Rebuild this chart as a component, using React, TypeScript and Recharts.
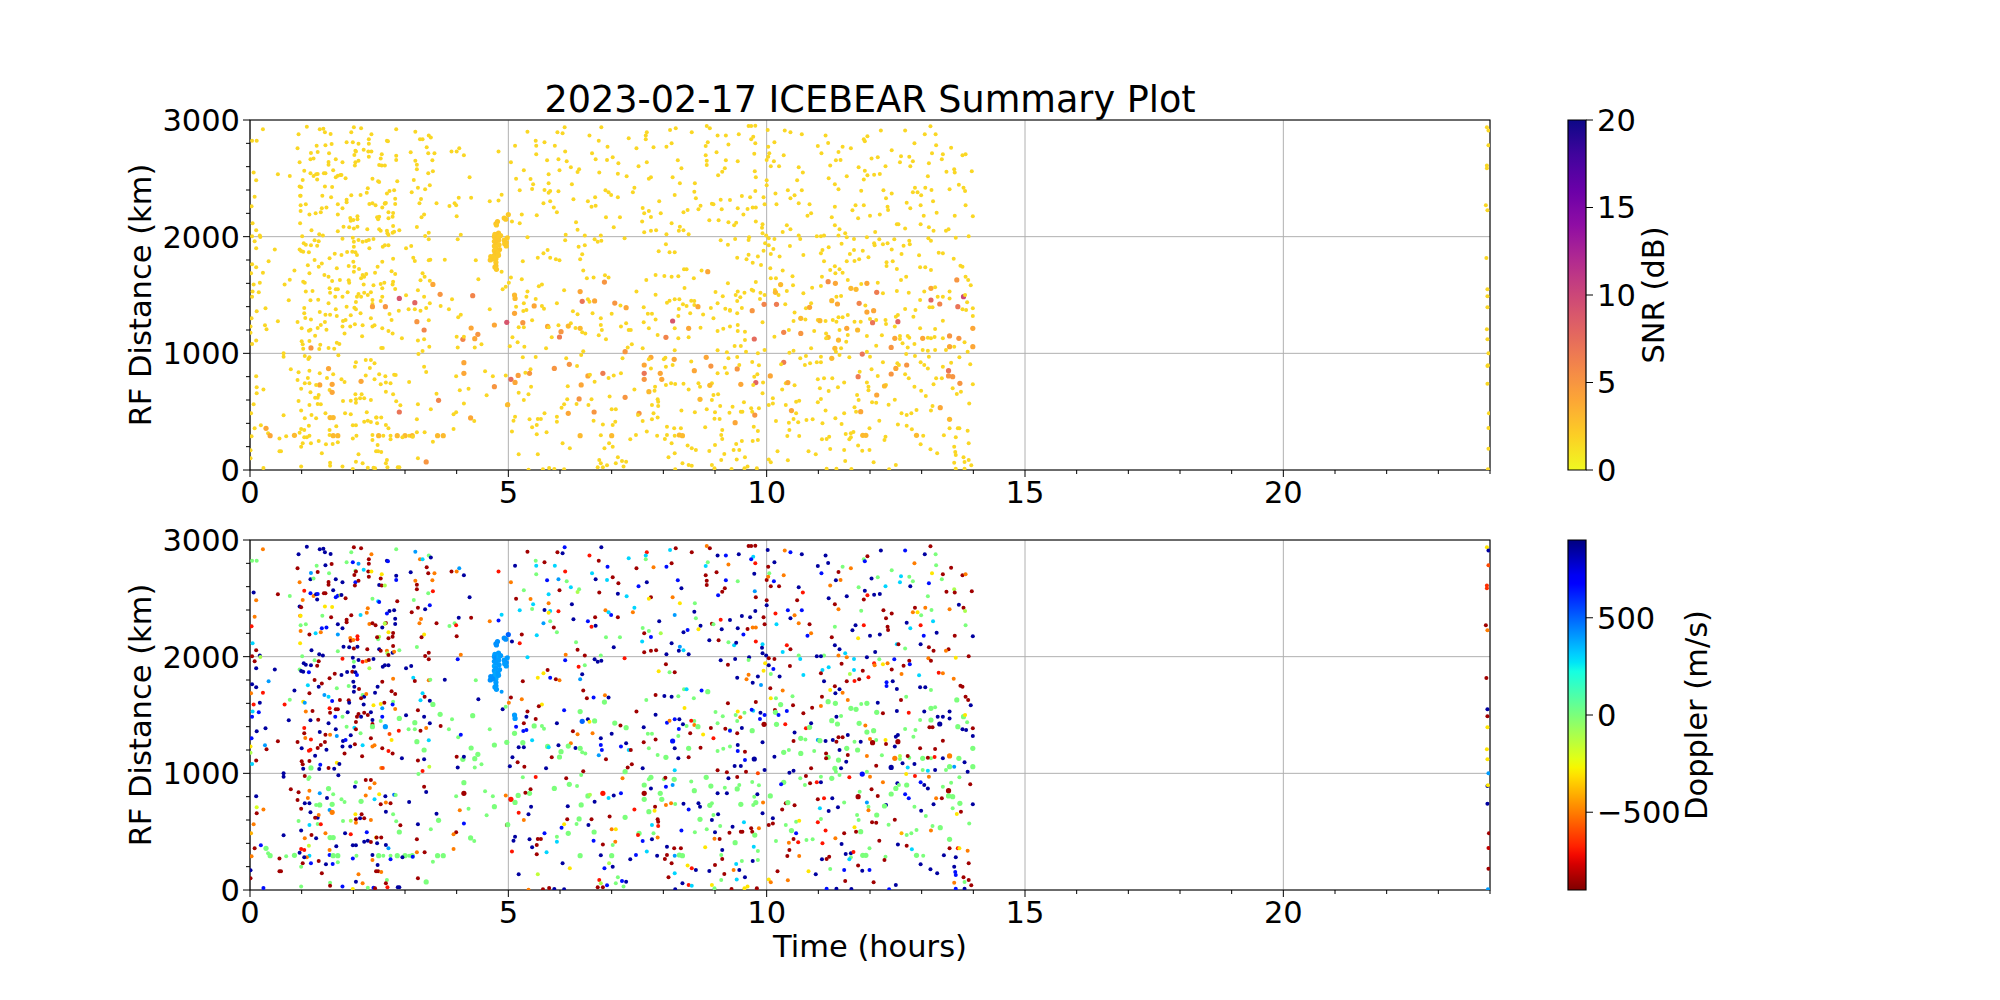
import React from 'react'
import {
  ScatterChart, Scatter, XAxis, YAxis, CartesianGrid, ReferenceArea,
} from 'recharts'

// ── Data: [hour, RF distance km, doppler m/s, snr dB (optional)] ──────────────

type Echo = [number, number, number, number?]

const TYPICAL_SNR = 1.6

const hourTicks = Array.from({ length: 25 }, (_, i) => i)
const rangeTicks = Array.from({ length: 16 }, (_, i) => i * 200)
const hourLabels = [0, 5, 10, 15, 20]
const rangeLabels = [0, 1000, 2000, 3000]
const snrTicks = [0, 5, 10, 15, 20]
const dopplerTicks = [-500, 0, 500]

const startEdge: Echo[] = [
  [.04,2823,0],[.13,2823,0],[.25,2920,-500],[.07,2551,850],[.12,2483,-500],[.09,2343,-500],[.03,2260,-700],[.05,2114,300],[.12,2054,-850],[.19,2009,850],[.04,2003,-850],[.2,1997,-100],[.09,1960,-850],[.12,1900,850],[.04,1763,850],[.12,1737,850],[.36,1789,400],[.02,1686,-500],[.25,1691,-700],[.07,1591,-700],[.19,1606,850],[.05,1531,300],[.04,1486,650],[.17,1523,650],[.13,1360,850],[.3,1386,850],[.03,1300,650],[.29,1240,400],[.32,1206,-850],[.54,1274,-850],[.01,1229,-300],[.01,1177,-100],[.04,1080,300],[.12,1111,-850],[.12,803,850],[.13,709,-200],[.13,657,-850],[.26,691,-500],[.07,563,-500],[.02,486,-400],[.09,357,-850],[.21,383,650],[.31,357,0,4],[.03,289,-500],[.35,314,0],[.39,294,0,4],[.57,271,-850],[.57,160,-850],[.6,160,-850],[.7,289,0],[.86,297,0,3],[.01,169,850],[.01,100,-850],[.26,17,650],
  [.54,2534,-850],[.77,2520,0],[.48,1891,850],[.67,1591,-700],[.77,1631,0],[.86,1709,850],[.75,1454,850],[.65,1000,850],[.65,971,850],[.79,863,-850],[.65,469,850],
]

const upperEarly: Echo[] = [
  [.94,2877,850],[1.1,2943,850],[1.35,2920,850],[1.42,2926,850],[1.45,2894,850],[1.56,2880,850],[.92,2757,-850],[1.18,2717,400],[1.31,2726,-850],[1.29,2780,0],[1.46,2783,850],[1.58,2794,-850],[1.87,2809,0],[2.01,2937,-850],[2.15,2929,-850],[1.96,2894,0],[2.35,2877,-500],[2.3,2834,-850],[2.3,2797,-850],[1.99,2809,650],[2.1,2797,400],[2.04,2737,0],[2.05,2729,-850],[2.02,2700,-850],[2.2,2746,300],[2.29,2729,-850],[2.35,2729,-300],[1.53,2714,0],[1.17,2663,850],[1.23,2671,0],[.96,2637,-500],[1.52,2640,-850],[1.52,2617,-850],[1.66,2663,850],[1.79,2637,850],[2.04,2637,650],[2.03,2611,-850],[2.1,2651,-850],[2.3,2686,-850],[2.55,2706,-300],[2.53,2671,-850],[2.5,2614,850],[2.55,2609,-850],[2.61,2609,-100],[2.83,2694,850],[2.83,2657,650],[2.65,2823,850],[2.67,2817,650],[2.83,2920,0],[3.2,2900,400],[3.29,2834,-500],[3.34,2834,300],[3.46,2868,0],[3.5,2851,850],[3.42,2766,-850],[3.11,2723,850],[3.45,2714,-850],[3.57,2714,-500],[3.2,2651,-500],[3.23,2617,-850],[3.23,2577,-850],[3.53,2654,-500],[3.54,2560,-700],[3.45,2543,0],[3.9,2731,-850],[4,2731,-500],[4.05,2757,400],[4.14,2697,850],[4.81,2729,-700],[4.25,2509,850],
  [1.05,2566,-700],[1.17,2543,650],[1.23,2520,-500],[1.28,2534,850],[1.31,2537,650],[1.43,2543,-850],[1.46,2543,-850],[1.61,2569,850],[1.66,2509,650],[1.7,2523,650],[1.75,2529,-200],[1.77,2529,850],[1.85,2500,-850],[1.3,2491,850],[1.02,2486,-500],[2.37,2497,0],[2.48,2474,300],[2.5,2468,650],[2.85,2474,-850],[3.17,2486,0],[.96,2431,850],[.99,2423,-850],[1.45,2431,-300],[1.59,2426,-300],[2.28,2414,-500],[2.26,2377,-500],[2.7,2391,850],[2.79,2397,850],[2.65,2371,650],[3.13,2380,-850],[3.25,2420,-850],[3.39,2406,850],[3.48,2440,650],[.97,2351,-500],[.98,2351,-300],[1.4,2351,0],[1.57,2337,-850],[1.96,2354,-850],[2.14,2357,300],[1.87,2317,-850],[1.87,2294,-850],[2.81,2326,850],[2.61,2283,-300],[2.63,2289,-850],[3.31,2323,-500],[3.28,2286,-500],[3.61,2286,-850],[3.86,2263,0],[3.96,2286,0],[3.99,2269,-700],[4.04,2334,850],[4.28,2334,-850],[4.64,2303,-500],[4.81,2311,650],[4.87,2360,300],
  [.98,2269,0],[1.08,2277,0],[.98,2220,-500],[1.15,2191,-850],[1.27,2200,300],[1.37,2209,-500],[1.39,2243,650],[1.48,2251,650],[1.7,2277,850],[1.79,2243,850],[1.7,2191,400],[2.31,2280,-500],[2.37,2286,-850],[2.43,2269,-850],[2.56,2249,850],[2.61,2286,-100],[2.68,2209,-300],[2.77,2203,-850],[2.81,2280,850],[3.37,2191,-300],[3.32,2166,-850],[4,2174,-850],[1.94,2160,-500],[1.95,2137,-850],[2,2143,-500],[2.08,2174,-700],[2.08,2149,-700],[2.5,2171,-100],[2.48,2149,0],[2.46,2166,-850],[2.68,2157,-850],[2.76,2171,-850],[.97,2114,-300],[1.81,2086,850],[1.92,2080,850],[2.01,2071,-850],[2.08,2086,850],[2.27,2063,-850],[2.5,2063,850],[2.53,2051,-850],[2.65,2051,-500],[2.77,2091,-850],[2.66,2029,-100],[2.76,2034,850],[2.79,2043,-500],[2.89,2054,0],[3.23,2083,0],[1.19,2054,850],[1.7,2046,0],[3.39,2006,-850],[3.46,2034,-850],[3.46,1977,-850],[4.08,2017,-500],[4.02,1977,650],
]

const middleEarly: Echo[] = [
  [1.01,2003,0],[1.34,2020,850],[1.41,2009,850],[1.79,1983,-700],[1.99,1991,850],[2.1,1971,850],[2.18,1957,-700],[2.25,1963,-500],[2.3,1971,-850],[2.39,1980,850],[2.68,2014,-850],[1.25,1969,0],[1.33,1960,-850],[1.04,1943,850],[1.08,1931,850],[1.18,1926,850],[1.3,1923,-850],[.96,1891,0],[.99,1877,850],[1.03,1871,850],[1.14,1866,650],[2.01,1957,0],[2.01,1914,850],[1.98,1871,-850],[2.31,1900,-100],[2.57,1914,850],[2.61,1926,850],[2.68,1926,850],[3.02,1900,850],[3.12,1920,850],[1.64,1854,-850],[1.77,1843,850],[1.88,1869,850],[2.04,1866,850],[2.07,1843,650],[2.56,1786,-850],[2.47,1743,850],[2.77,1811,-500],[3.16,1820,300],[3.19,1791,-850],[3.46,1797,-500],[3.49,1803,0],[3.77,1803,850],[4.37,1797,0],[1.33,1743,850],[1.25,1800,-850],[1.12,1754,300],[1.54,1814,-850],[1.39,1771,-850],[1.91,1749,0],[2,1786,850],[2.02,1743,850],[1.68,1729,0],[2.01,1700,850],[2.11,1723,-850],[1.15,1686,-850],[1.44,1671,400],[1.52,1657,300],[1.59,1620,650],[1.74,1629,-850],[1.91,1626,-850],[2.18,1671,0],[2.21,1657,850],[2.25,1680,-500],[2.15,1643,-850],[2.42,1691,850],[2.74,1703,-850],[2.81,1680,-850],[2.77,1614,0],[3.34,1686,300],[3.38,1657,-850],[3.3,1626,300],[3.48,1623,850],[3.54,1591,0,4],[4.42,1634,850],[1.03,1614,-300],[1.06,1606,400],[1.54,1557,-700],[1.92,1606,850],[2.2,1591,850],[2.39,1583,-300],[2.53,1594,-300],[2.6,1606,-850],[2.76,1591,650],[2.81,1551,-500],[2.56,1557,400],[2.56,1486,650],[3.25,1540,-850],
  [1.08,1531,-500],[1.21,1534,-850],[1.66,1549,-850],[1.7,1549,-850],[1.55,1520,-850],[1.89,1523,850],[2.1,1509,-850],[2.21,1520,-850],[2.28,1500,-850],[2.34,1523,850],[1.65,1486,650],[2.07,1486,-850],[2.15,1486,850],[1.79,1486,0],[3.02,1497,850],[3.37,1486,850],[2.89,1471,0,9],[3.68,1506,0,5],[1.17,1454,850],[1.32,1460,-850],[1.52,1429,850],[2.05,1440,-850],[2.37,1457,850],[2.37,1423,-850],[2.53,1449,0],[3.91,1463,0],[4.31,1494,0,6],[3.19,1434,0,8],[3.48,1429,850],[1.05,1389,-700],[1.05,1343,-850],[1.87,1400,0],[1.66,1377,850],[2.02,1391,300],[2.05,1377,-850],[2.14,1343,0],[2.37,1400,0,4.5],[2.62,1400,400,5],[2.7,1337,-600],[2.88,1366,-700],[3.07,1377,0],[3.19,1377,0],[3.3,1366,-850],[3.41,1389,-500],[3.69,1406,-850],[3.85,1377,0],[4.64,1377,0],[1.35,1354,850],[1.46,1331,-850],[1.55,1331,-500],[1.18,1289,-700],[1.07,1303,-500],[.92,1269,-850],[1.45,1269,-850],[1.68,1320,400],[1.8,1277,850],[1.85,1286,650],[1.95,1326,850],[2.03,1249,-850],[2.34,1300,-850],[2.74,1286,-300],[3.23,1271,0,5],[3.46,1283,300],[4.03,1309,0],[4.08,1331,650],[4.97,1266,0,9],[4.73,1243,0,4],
  [1,1214,850],[1.14,1194,-700],[1.17,1203,-700],[1.31,1217,-850],[1.37,1243,-850],[1.48,1203,850],[1.79,1231,850],[1.94,1229,850],[2.18,1240,300],[2.37,1229,-500],[2.41,1240,-500],[2.56,1214,-850],[2.68,1191,-700],[2.76,1171,-850],[3.37,1200,0,6],[4.28,1217,0,4],[4.41,1163,0,5],[4.35,1126,0,4],[4.12,1120,0,6],[4.14,1143,850],[4,1143,-850],[1.83,1171,-850],[2.17,1146,-850],[2.94,1129,850],[3.25,1111,-850],[3.37,1120,850],[1,1103,-850],[1.02,1077,-850],[1.15,1106,-850],[1.26,1151,850],[1.03,1040,850],[1.18,1046,0,5],[1.36,1074,650],[1.34,1037,850],[1.52,1046,-850],[1.63,1040,850],[1.68,1091,-300],[1.73,1080,850],[2.54,1046,-500],[2.57,1046,-600],[3.47,1057,-150],[3.34,1020,-700],[3.26,994,0],[4.02,1049,850],[4.35,1049,0],[4.48,1077,0],
]

const lowerEarly: Echo[] = [
  [1.06,977,-850],[1.13,951,0],[1.15,966,0],[1.71,983,850],[2.24,943,-850],[2.34,943,-850],[2.05,923,0],[2.03,886,850],[2.41,914,-500],[2.32,874,-500],[1.52,869,0,4],[1.15,851,-500],[.94,837,-850],[1.35,829,400],[.92,771,-850],[1.61,820,0],[1.49,789,850],[1.12,789,-500],[1.15,743,850],[1.06,743,850],[1.35,729,0,4],[1.59,734,0,4],[1.77,777,0],[1.83,754,0],[2.24,809,-500],[2.41,777,300],[2.5,820,-300],[2.62,803,850],[2.79,817,500],[2.82,814,0],[3.37,886,-850],[3.41,840,850],[3.08,754,850],[4.14,829,-850,4],[4.14,920,0,4],[3.99,803,0],[4.55,846,0],[4.7,803,0],[2.15,760,0,4],[2.53,734,-850],[2.63,751,-500],[2.72,743,-850],[.99,697,-850],[1.54,686,400],[1.28,729,0],[1.17,666,850],[1.31,620,850],[1.26,620,-850],[1.33,643,-500],[1.59,666,-500,4],[2.04,649,-300],[2.16,649,-850],[2.05,606,-850],[2.13,614,850],[2.63,671,850],[2.77,649,0],[3.61,654,850],[3.65,597,0,6],[4.06,683,-500],[4.23,697,0],[4.73,714,0,5],
  [.94,591,0],[1.15,557,300],[1.31,566,0],[1.37,563,-700],[1.8,591,0],[1.95,594,-100],[2.05,577,-500],[2.21,614,-850],[2.34,600,-500],[2.83,589,0],[2.91,554,-850],[3.25,563,850],[3.5,520,0],[4.14,571,650],[4.58,640,0],[4.97,557,-850],[4.99,560,0,3],[.99,511,850],[2.89,497,0,7],[2.26,494,650],[1.84,486,850],[1.95,477,-700],[1.46,486,-500],[1.19,471,-850],[1.06,443,-500],[1.55,449,0,3],[1.61,449,0,3],[1.28,443,850],[2.44,451,-300],[2.45,449,-850],[2.54,449,-850],[3.23,434,-850],[3.99,494,-850],[3.94,477,-500],[4.27,446,0,4],[4.34,420,0],[1.14,380,-150],[.99,351,-700],[1.05,343,-700],[.96,320,850],[1.67,374,850],[1.99,383,850],[2.05,383,850],[2.21,414,850],[2.28,423,850],[2.34,411,-850],[2.46,400,850],[2.63,386,850],[2.68,357,400],[1.15,294,300],[1.33,249,-850],[1.1,280,-500],[1.54,343,-500],[1.54,300,650],[1.61,294,0,3],[1.7,294,0,3],[2.06,294,0],[2.49,294,0,3],[2.58,294,0],[2.72,294,0],[2.85,294,0,3],[3,294,0,3],[3.08,294,0],[3.14,294,0,3],[3.23,323,-500],[3.38,323,-850],[3.63,294,0,3],[3.74,294,0,3],[3.94,351,-500],
  [1.02,229,-850],[.99,200,0],[1.18,229,650],[1.47,220,850],[1.6,223,650],[1.7,237,0],[1.05,280,850],[1.39,143,-850],[2.1,134,-500],[2.44,160,-850],[2.48,160,-850],[2.54,154,-500],[2.37,257,-500],[2.37,300,850],[2.47,214,850],[1.99,271,650],[2.72,263,650],[2.95,280,850],[3.15,286,650],[3.54,243,0],[3.25,100,-850],[3.41,69,0,5],[2.05,71,850],[2.18,57,-500],[2.65,86,0],[2.63,57,-850],[1.55,63,0],[1.55,37,-850],[1.79,31,650],[.99,29,0],[1.99,9,-300],[2.28,20,0],[2.39,20,650],[2.42,14,-850],[2.66,23,-700],[2.86,23,850],[2.89,23,850],
]

const plumeEchoes: Echo[] = [
  [4.73,2000,400,2.2],[4.73,1960,400,2.2],[4.73,1920,380,2.2],[4.73,1880,400,2.2],[4.73,1840,380,2.2],[4.74,2020,400,2.2],[4.76,1990,420,2.4],[4.76,1950,400,2.4],[4.76,1900,400,2.2],[4.76,1860,380,2.4],[4.76,1810,380,2.2],[4.76,1780,400,2.2],[4.76,1750,400,2.4],[4.74,1740,400,2.4],[4.77,1720,400,2.2],[4.7,1810,420,2.2],[4.66,1830,420,2.2],[4.65,1800,420,2.2],[4.81,2030,400,2.4],[4.82,2000,380,2.2],[4.81,1970,400,2.4],[4.82,1930,400,2.2],[4.83,1890,400,2.4],[4.8,1860,400,2.2],[4.81,1840,400,2.2],[4.85,2010,400,2.2],[4.92,1970,400,2.2],[4.96,1950,420,2.4],[4.98,1990,400,2.2],[4.93,1940,400,2.2],[4.96,1920,400,2.2],[4.76,2110,420,2.4],[4.79,2130,420,2.4],[4.77,2100,420,2.2],[4.92,2160,420,2.2],[4.95,2150,420,2.2],[5,2190,500,2.2],[4.87,1700,400],
]

const lateMorning: Echo[] = [
  [5.13,2780,850],[5.37,2900,-850],[5.53,2823,0],[5.54,2780,300],[5.7,2809,-850],[5.9,2780,300],[5.95,2894,-850],[6.05,2886,850],[6.09,2937,650],[6.57,2868,-700],[6.8,2937,850],[6.75,2823,-850],[6.92,2771,650],[7.02,2680,-850],[7.13,2629,-850],[7.33,2843,300],[5.54,2706,0],[6.1,2729,-700],[6.62,2714,300],[6.69,2663,850],[6.91,2657,300],[5.75,2654,650],[5.97,2663,400],[6.13,2646,0],[6.21,2594,300],[5.05,2637,-500],[5.3,2569,0],[6.37,2577,0],[6.34,2554,-100],[5.99,2569,-850],[5.78,2534,300],[6.76,2551,-850],[7.12,2540,850],[7.29,2517,300],[5.15,2497,-850],[5.43,2494,-500],[5.78,2457,-500],[6.23,2449,850],[5.48,2449,300],[5.46,2409,0],[5.22,2397,300],[5.7,2400,850],[5.81,2391,300],[5.78,2377,-300],[5.97,2389,-700],[6.88,2397,-500],[6.99,2357,650],[6.94,2380,300],[6.68,2337,-850],[7.12,2337,-850],[6.26,2320,850],[6.54,2303,650],[5.68,2286,400],[5.81,2303,0],[6.61,2257,-700],[6.69,2266,850],[5.88,2251,-850],[5.94,2209,0],[5.26,2191,-850],[5.55,2183,300],[6.89,2166,0],[7.16,2166,0],[5.07,2129,850],[5.22,2114,-700],[6.31,2123,0],[6.34,2060,-850],[7.04,2080,850],[6.11,2017,-500],[6.48,2009,-850],[6.67,1977,850],[6.73,1957,850],[6.8,1966,850],[6.1,1969,650],[5.37,1994,300],[7.25,1986,-700],[6.79,2011,0],[6.36,1914,-700],[6.48,1926,0],[6.43,1849,850],[6.39,1806,400],[5.76,1886,-850],[5.68,1857,-300],[5.81,1820,650],[5.57,1820,-300],[5.92,1806,-850],[5.99,1797,-500],[5.28,1789,-850],[5.05,1651,-850],[5.01,1606,-500],[5.26,1634,-500],[6.45,1711,-850],[6.52,1643,-850],[6.65,1651,650],[6.87,1669,-500],[6.94,1651,850],[6.86,1611,0,5],[5.65,1591,-300],[5.59,1574,-850],[4.89,1549,850],[4.95,1571,0],[5.12,1500,400,3],[5.13,1471,400,3],[6.08,1540,650],[6.39,1529,0,4],[5.37,1529,-850],[5.35,1486,850],[5.53,1466,-850],[5.94,1429,850],[6.43,1446,500,7],[6.54,1463,850],[6.67,1449,0,4],[6.57,1443,-300],[7.06,1431,0,5],[7.28,1391,0,4],[7.17,1409,-850],[5.3,1429,-850],[5.15,1400,650],[5.5,1406,0,4],[5.65,1406,0],[5.69,1383,0],[5.29,1363,650],[5.35,1371,650],[5.12,1343,0,4],[6.25,1360,-850],[6.34,1334,-500],[6.63,1343,-500],[7,1340,850],[6.79,1300,850],[7.28,1257,850],[5.28,1263,0,5],[5.46,1283,300],[5.2,1223,850],[5.3,1223,850],[5.97,1240,850],[5.76,1231,0,4],[5.78,1223,300],[6.21,1257,-500],[6.16,1234,0,3],[6.3,1217,850],[6.39,1214,0,3],[6.79,1243,650],[6.81,1200,650],[7.18,1229,650],[7.33,1200,300],[6.02,1186,0,5],[6.43,1180,0],[6.49,1171,0],[5.08,1137,850],[5.18,1094,-850],[5.31,1057,-850],[5.03,1060,850],[5.84,1137,-850],[5.99,1140,0,6.5],[6.75,1154,400],[6.89,1120,-850],[7.26,1014,0,5],[7.31,1051,-850],[5.73,1043,850],[6.45,1017,-850],[6.41,986,0],
  [5.28,966,0],[5.53,969,-700],[6.12,957,-850],[6.18,906,0,5],[6.33,891,0],[7.21,957,-500],[5.89,871,0,5],[5.43,863,-850],[5.41,829,0,5],[5.33,834,-850],[5.19,811,0,4.5],[5.05,777,-700,7.5],[5.13,751,0,4],[4.95,811,-500],[6.83,829,-700,6.5],[6.54,806,0,4],[6.58,817,-100],[6.67,757,850],[6.94,789,300],[7.04,811,850],[7.18,829,650],[6.41,729,0,4],[6.15,717,850],[5.44,714,850],[5.2,663,-700],[5.39,649,850],[5.3,600,-500],[6.14,606,-850],[6.37,609,0,5],[6.61,606,-850],[6.96,631,-850],[7.26,623,0,5],[6.55,557,850],[6.32,566,0],[6.08,563,-300],[6.03,534,650],[6.16,486,0,4],[5.94,457,0],[5.7,486,650],[5.57,437,-850],[5.63,437,-850],[5.41,434,850],[5.13,457,850],[5.1,423,850],[5.94,414,300],[6.66,497,0,5],[7,520,-500],[7.08,520,-300],[5.46,366,850],[5.55,386,-850],[6.65,423,650],[6.83,391,-850],[7.07,414,-500],[7.02,386,0],[5.07,331,-700],[5.55,306,-850],[5.74,323,300],[6.39,294,0,3],[6.79,297,850],[7,294,0,3],[6.05,229,850],[6.19,186,-300],[6.95,229,-100],[6.86,186,650],[7.02,200,850],[5.2,134,850],[5.57,134,-150],[6.76,86,-700],[6.79,57,-100],[6.91,40,650],[6.73,23,-850],[6.83,23,-850],[7.08,57,0],[7.12,109,0],[7.2,77,650],[7.28,71,850],[7.23,29,0],[5.79,17,-850],[5.67,6,-850],[5.89,9,850],[6.08,6,850],[5.39,3,-500],
]

const beforeTenUpper: Echo[] = [
  [8.84,2949,-500],[8.9,2929,-850],[9.65,2949,-850],[9.7,2949,-850],[9.78,2951,-850],[8.24,2929,-850],[8.13,2914,300],[8.55,2894,-850],[7.68,2894,-700],[7.66,2868,300],[7.66,2834,0],[7.48,2757,-850],[7.81,2766,-500],[8.06,2771,650],[8.16,2800,-850],[8.86,2809,0],[8.82,2777,300],[9.05,2868,850],[9.21,2868,650],[9.46,2877,850],[9.74,2857,300],[9.7,2834,650],[9.78,2800,-700],[9.26,2791,-500],[9.76,2711,850],[9.03,2723,-850],[8.82,2697,-850],[8.84,2651,-850],[8.84,2614,-850],[8.28,2654,650],[7.68,2637,850],[7.52,2603,650],[8.35,2586,850],[9.21,2654,650],[9.19,2586,-850],[9.14,2557,-850],[9.06,2526,650],[9.44,2646,0],[9.77,2560,400],[9.79,2509,-850],[7.76,2509,-850],[7.72,2497,-300],[8.18,2509,-500],[8.32,2457,-300],[8.61,2457,0],[7.44,2420,300],[7.41,2380,-500],[8.22,2357,400],[8.6,2386,850],[8.63,2329,0],[9.78,2391,850],[9.52,2349,850],[9.68,2337,850],[9.11,2317,-700],[9.29,2314,850],[7.92,2303,850],[8.94,2283,-850],[8.97,2277,0],[8.72,2266,850],[8.47,2229,650],[8.39,2209,850],[8.68,2234,-300],[9.13,2234,850],[9.44,2243,850],[9.63,2237,-850],[9.73,2251,-500],[9.79,2251,-500],[9.55,2191,650],[7.6,2246,0],[7.72,2220,0],[7.63,2200,-850],[7.76,2169,650],[7.95,2200,-100],[8.89,2140,850],[9.07,2140,-850],[7.59,2129,300],[7.86,2054,-850],[8.16,2114,850],[7.63,2037,-850],[7.76,2051,-850],[8.32,2086,400],[8.39,2054,300],[8.3,2051,850],[8.49,2020,850],[8.06,2020,850],[9.26,2123,0],[9.37,2097,300],[9.41,2120,850],[9.79,2129,-700],[9.92,2106,300],[9.91,2077,850],[9.92,2029,850],[9.99,2009,850],[9.66,1994,850],[9.65,1971,0],[9.11,1969,850],[9.25,1931,-850],[9.39,1980,850],[8.05,1934,-850],[7.91,1874,-300],[8.12,1866,0],[8.22,1866,-850],[9.43,1820,850],[9.65,1846,-500],[9.61,1806,-500],[9.89,1757,400],[9.73,1777,850],[9.83,1829,850],
]

const afterTenUpper: Echo[] = [
  [10.02,2914,850],[10.35,2911,-500],[10.46,2894,650],[10.68,2877,850],[10.15,2809,850],[10.03,2771,-850],[10.05,2714,0],[10.33,2697,-500],[10,2657,-850],[10.03,2686,-500],[10.14,2646,650],[10.08,2603,-850],[10.24,2603,-850],[10.62,2594,850],[10.7,2549,-700],[10.59,2483,-850],[10,2483,-850],[10,2440,850],[10.41,2397,650],[10.68,2397,650],[10.17,2371,-700],[10.54,2354,-500],[10.46,2329,850],[9.94,2337,-850],[9.96,2277,-850],[10.19,2277,300],[10.62,2286,-500],[10.83,2277,-850],[10.86,2200,-500],[10.79,2180,650],[10.39,2097,-700],[10.46,2063,-850],[10.31,2040,300],[10.62,2011,0],[10.65,1980,300],[10.04,1986,-850],[10.15,1980,-850],[9.97,1943,-300],[10.04,1926,850],[10.13,1894,650],[9.94,1880,-300],[10.08,1851,0],[10.45,1920,-850],[10.25,1831,850],[10.71,1843,300],[10.07,1729,-850],[10.31,1711,-500],
  [11.14,2868,850],[11.19,2803,850],[11.06,2714,650],[10.99,2777,850],[11.47,2771,0],[11.63,2757,-500],[11.39,2726,-850],[11.43,2657,-500],[11.34,2654,850],[11.23,2611,-500],[11.2,2500,850],[11.55,2517,850],[11.32,2449,-850],[11.39,2406,-500],[11.88,2834,0],[11.9,2817,650],[11.95,2860,-850],[12.21,2911,850],[12.68,2911,650],[13.17,2946,-850],[13.06,2877,850],[13.27,2877,0],[12.86,2800,-500],[12.42,2740,0],[13.28,2783,0],[13.57,2763,-850],[13.41,2706,-850],[13.2,2714,-300],[13.39,2663,0],[13.79,2697,-850],[13.85,2706,-500],[12.03,2671,850],[12.15,2680,0],[12.6,2689,300],[12.76,2686,0],[12.58,2637,300],[12.83,2646,0],[12.78,2603,850],[13.14,2629,650],[12.3,2603,300],[11.78,2594,0],[11.9,2566,850],[11.95,2526,-700],[11.88,2491,-850],[12.08,2531,850],[12.19,2537,850],[13.48,2557,-850],[13.63,2577,-100],[13.64,2551,-850],[13.97,2560,-850],[13.12,2517,0],[13.72,2446,850],[13.81,2420,-850],[13.84,2391,-100],[13.54,2406,-500],[13.19,2400,0],[13.07,2420,-500],[12.87,2420,-850],[12.83,2380,-500],[12.92,2380,-300],[12.99,2354,0],[12.26,2397,-850],[11.83,2394,0],[12.42,2371,-850],[12.31,2329,-850],[12.34,2257,-850],[12.35,2229,-850],[12.71,2291,850],[13.22,2303,300],[12.98,2269,-700],[12.78,2243,300],[11.72,2269,850],[11.88,2269,-700],[11.66,2226,850],[11.32,2257,0],[13.85,2269,0],[13.29,2206,850],[13.04,2180,650],[13.64,2180,-850],[13.99,2174,850],[12,2180,850],[12.19,2191,850],[11.77,2157,-300],[11.26,2166,-850],[11.32,2097,850],[11.41,2063,850],[11.52,2029,300],[11.55,1994,-500],[11.39,2011,-500],[11.11,2011,0],[10.97,2003,850],[11.05,2003,850],[11.69,1980,300],[11.94,1994,850],[12.1,2040,850],[12.52,2106,300],[12.55,2106,-850],[12.68,2071,0],[12.98,2106,850],[13.14,2080,-850],[13.23,2051,-850],[13.52,2063,-850],[13.47,2051,-500],[13.91,2003,-850],[13.66,1991,-300],[13.13,1986,-500],[13.18,1966,-850],[12.76,1966,-850],[12.47,1977,650],[12.18,1977,0],[12.08,1943,-700],[12.09,1926,-500],[12.25,1934,-300],[12.34,1943,-500],[12.42,1891,-850],[12.65,1923,-850],[12.77,1934,650],[12.61,1851,-500],[12.95,1840,300],[13.33,1863,-700],[13.41,1857,-500],[13.62,1811,-500],[11.45,1940,-850],[11.69,1886,300],[11.61,1851,-100],[11.97,1823,-700],[11.86,1880,-850],[11.7,1791,-700],[11.79,1806,-850],[11.55,1789,-850],[11.08,1886,300],[11.2,1909,300],[11.05,1857,-850],[11.11,1789,850],[12.32,1780,650],[12.32,1749,650],[12.44,1789,850],[12.52,1723,850],[12.6,1629,-850],[12.7,1657,0],[12.97,1737,850],[13.07,1737,850],[13.18,1714,0],[13.75,1751,-850],[13.79,1743,-850],[13.85,1657,-850],[13.9,1629,-850],[13.95,1583,850],[13.68,1629,0,5],
]

const midBand: Echo[] = [
  // 7.4 to 10 hours
  [7.37,1200,-850],[7.62,1266,-850],[7.85,1291,-850],[7.72,1214,0],[7.89,1157,0],[8.05,1137,0,6],[8.18,1277,650,9],[8.29,1320,0],[8.22,1214,850],[8.29,1129,850],[8.49,1214,0,4],[8.49,1137,-850],[8.72,1220,-850],[8.6,1449,0],[8.6,1414,-500],[8.38,1420,850],[8.45,1406,0],[8.3,1380,650],[8.67,1400,0,4],[8.54,1451,-700],[8.41,1560,-300],[8.59,1643,0],[8.4,1721,0],[8.16,1657,850],[7.85,1671,-850],[7.67,1629,0],[7.48,1529,-850],[7.85,1503,850],[8.22,1463,650],[8.31,1463,850],[8.07,1434,650],[8.12,1451,-500],[7.62,1394,850],[7.78,1340,0],[7.7,1340,0],[8.52,1343,-850],[8.77,1333,-300],[8.92,1389,-850],[9.2,1383,-850],[9.05,1429,0],[9.29,1371,0],[9.43,1449,0],[9.52,1389,850],[9.72,1366,0,5],[9.43,1343,-850],[9.29,1366,650],[8.97,1300,-700],[9.44,1243,850],[9.29,1231,0],[9.05,1191,0],[9.16,1211,0],[9.44,1191,650],[9.58,1186,-850],[9.58,1114,650],[9.76,1123,850,7.5],[9.5,1063,850],[9.38,1063,850],[9.6,1014,-850],[9.83,1000,-600],[9.23,1009,-850],[9.05,1026,-850],[8.22,1026,300],[7.6,1043,850],[7.39,1077,-850],[8.29,1660,0],[8.02,1663,850],[8.45,1720,300],[8.74,1711,650],[8.86,1700,0,4],[9.25,1600,-850],[9.44,1529,-300],[9.57,1520,0],[9.74,1537,300],[9.79,1611,-850],[9.87,1466,650],[9.71,1546,650],[9.01,1526,0],[9.15,1489,0],[9.4,1500,0],[9.49,1480,-500],
  // 10 to 14 hours
  [10.08,1643,-300],[10.18,1643,0],[10.5,1660,0],[10.51,1583,-850],[10.27,1589,0,3],[10.16,1543,-850],[10.17,1523,0,3],[10.23,1500,650],[10.39,1534,650],[9.96,1500,650],[9.88,1520,850],[9.95,1420,-850,6],[10.19,1420,0,6.5],[10.36,1420,-700],[10.54,1351,850],[10.52,1277,-850],[10.71,1514,-850],[10.76,1386,-700],[10.83,1394,0,4],[10.86,1429,850],[10.88,1563,-850],[11.05,1577,-500],[11.07,1657,-850],[11.19,1614,0,5.5],[11.33,1600,0,4],[11.57,1629,-500],[11.23,1714,-300],[11.32,1746,-850],[11.41,1720,850],[11.33,1686,850],[11.47,1691,-500],[12.15,1606,850],[11.94,1600,0,4],[11.83,1594,0],[11.63,1557,0,3],[11.73,1549,0,3],[13.18,1557,0,4],[13.26,1566,0],[13.54,1529,850],[13.05,1531,850],[12.52,1534,850],[12.75,1520,-700],[12.25,1514,-850],[12.13,1523,0,6.5],[11.35,1486,850],[11.44,1491,0],[11.26,1451,0,3],[11.37,1423,0,4],[11.91,1409,-500],[11.79,1429,0,6],[12.97,1457,0],[13.18,1457,0,8],[13.31,1486,850],[13.41,1486,850],[13.54,1471,850],[13.81,1486,0,10],[13.88,1437,0],[13.84,1500,-300],[13.15,1394,-850],[13.21,1394,-850],[13.35,1423,850,6],[13.7,1400,0,7],[13.79,1377,850],[13.86,1371,850],[13.99,1386,-850],[13.99,1320,850],[12.88,1371,0],[12.84,1314,0],[12.68,1380,0],[12.54,1329,850],[12.5,1314,850],[11.94,1354,0,4],[12.07,1366,0,4],[12,1294,-500],[12.12,1286,0],[12.05,1263,-850,7],[12.3,1286,-300],[12.31,1251,-850],[12.54,1271,-850,8],[12.48,1229,850],[11.39,1309,-850],[11.35,1271,-850],[11.47,1309,-850],[11.57,1329,850],[11.7,1271,0],[11.82,1271,850],[11.76,1200,0,3],[11.55,1214,0,4],[11.41,1200,850],[11.15,1171,-850],[10.99,1286,400],[11.03,1280,0,3],[11.14,1277,850],[11.28,1286,850],[10.66,1300,0,3],[10.75,1291,0],[10.92,1191,0],[10.66,1171,0,5],[10.33,1180,0,6],[10.43,1200,0],[9.92,1266,850],[10.15,1143,850],[11.19,1137,0,3],[11.15,1129,-850],[11.39,1114,0,3],[11.57,1157,-850],[11.54,1100,850],[11.94,1149,-500],[12.23,1154,0],[12.48,1129,-500,4],[12.58,1123,0],[12.76,1134,0],[12.58,1149,-100],[12.73,1149,-850],[12.97,1214,-850],[13.26,1209,-850],[13.41,1280,-850],[13.18,1129,0],[13.02,1129,0,4],[13.12,1134,-850],[13.25,1140,-700],[13.41,1129,850],[13.54,1149,-500,5],[13.72,1129,0,5],[13.99,1214,0,4],[13.83,1094,850],[13.89,1014,850],[13.99,1057,0,4],[13.54,1057,0,4],[13.63,1057,400],[13.47,1029,0],[13.26,1029,850],[13.12,1023,300],[13.02,1029,0],[12.86,1080,850],[12.73,1051,300],[12.63,1086,850],[12.41,1051,850,5],[12.12,1066,-850],[11.94,1014,0],[12,971,-500],[11.85,994,650,7],[11.6,966,-700],[11.41,986,0],[11.44,1043,850],[11.32,1043,0,3],[11.34,1014,0],[10.86,1043,-850],[10.52,1023,850],[10.44,1006,850],
]

const lowerLate: Echo[] = [
  // 7.4 to 10 hours
  [7.76,966,0,4],[7.72,949,0],[8.01,949,0],[8.04,963,-850],[8.21,949,0,4],[8.83,966,0,4],[9.26,957,850],[9.43,969,-850],[8.54,929,0],[7.63,900,0,4],[7.76,871,850],[7.63,829,-850,7],[7.63,777,0,5],[7.94,829,0,4],[7.97,777,0,4],[8.05,886,650],[8.18,900,400],[8.6,851,0,4],[8.92,891,0,5],[9.19,877,0],[9.05,829,850],[9.23,829,850],[9.43,866,0,5],[9.47,900,0],[9.72,926,0],[9.85,897,0],[9.82,820,850],[9.76,800,0],[9.5,734,0,4],[9.79,749,0,8],[9.74,729,0],[9.93,749,-500],[10.07,806,0,4],[9.92,657,850],[10.12,614,850],[10.12,571,-850],[10.04,557,-850],[8.94,743,0],[8.9,726,0,3],[8.68,743,850],[8.71,714,850],[8.49,691,650],[8.39,740,850],[8.15,743,-500],[8.05,729,-500],[8.23,737,0],[7.84,714,-850],[7.83,680,-300],[7.72,671,0,3],[7.44,691,-700],[7.89,606,-850],[7.9,586,-850],[7.9,549,-700],[7.78,557,300],[8.71,606,0,3],[8.97,643,0],[9.06,649,850],[8.94,600,850],[7.53,486,0,5],[7.51,471,-700],[7.81,486,0],[7.89,451,-500],[8.35,509,650],[8.61,494,0],[8.84,520,0],[9,494,850],[9.1,549,0],[9.34,543,850],[9.56,580,300],[9.5,500,-850],[9.53,500,-850],[9.7,529,-850],[9.72,500,-850],[9.85,529,-500],[9.77,471,0,5],[9.28,491,-850],[7.6,420,650],[7.78,434,850],[8.99,440,-500],[9.09,437,-850],[9.39,406,0,4],[8.07,371,850],[8.21,357,-850],[8.34,357,-850],[8.81,366,-300],[9.14,343,850],[9.75,371,300],[9.83,334,0],[8.31,300,0,3],[8.37,294,0,3],[8.22,294,400],[8.03,266,-850],[8.07,300,-850],[7.88,294,850],[7.47,300,650],[7.36,263,850],[7.68,331,300],[8.16,229,-850],[9.12,300,0],[9.14,266,-850],[9.52,249,0],[9.41,223,300],[9.73,249,850],[9.83,257,0],[9,214,-850],[8.55,186,-700],[8.47,211,-300],[8.63,171,850],[8.89,163,850],[8.22,143,300],[8.1,109,-850],[9.18,137,-850],[9.36,171,-500],[9.47,171,850],[9.58,109,850],[9.42,91,300],[9.12,86,0],[8.37,57,850],[8.49,43,-700],[8.55,37,300],[8.94,43,-300],[9.32,9,-850],[9.57,14,-300],[9.63,29,-300],[9.81,14,-850],[8.23,6,850],[8.99,14,0],
  // 10 to 14 hours
  [10.48,509,0,4],[10.57,486,650],[10.57,586,0],[10.63,594,-300],[10.37,557,0],[10.18,420,0],[10.43,406,-500],[10.52,437,-850],[10.61,409,-700],[10.89,434,0],[10.77,429,0],[10.44,343,-850],[10.4,291,-850],[10.63,291,-500],[11.08,400,-700],[10.99,580,-700],[11.05,609,0],[11.14,509,-700],[11.33,443,-500],[11.5,486,-850],[11.7,537,-300],[11.73,500,-850],[11.82,500,0,4],[11.45,394,850],[11.63,314,850],[11.53,309,850],[11.68,326,-700],[11.63,280,0],[11.6,263,300],[11.07,263,850],[11.16,266,-850],[11.21,286,-850],[11.86,297,0,3],[11.92,297,0,3],[12.3,286,0],[12.28,257,-850],[11.99,357,0],[12.18,423,-850],[12.54,391,850],[12.71,380,-850],[12.81,349,300],[12.9,297,0,3],[13.03,294,0],[12.61,486,-400],[12.71,471,0],[12.8,486,0],[12.9,514,0],[13.18,509,-500],[13.36,534,0,4],[13.21,549,0],[13.54,434,0,3],[13.54,357,-850],[13.7,357,-700],[13.73,357,-300],[13.89,337,-500],[13.43,297,850],[13.66,280,850],[13.91,229,-850],[13.63,200,850],[12.98,220,850],[13.17,177,850],[13.3,143,850],[13.65,154,650],[13.66,129,650],[13.81,109,-850],[13.91,86,-850],[13.83,69,0],[13.63,63,-500],[13.96,40,-850],[13.83,11,850],[13.66,11,650],[11.99,171,650],[11.85,166,850],[11.77,209,-850],[11.5,171,650],[11.23,180,0],[10.95,134,850],[10.81,160,-300],[10.21,160,-850],[10.04,91,-300],[10.08,66,-500],[10.41,83,-500],[12.07,66,-850],[11.52,77,-850],[12.37,6,650],[11.16,11,650],[11.35,11,850],[11.64,9,850],[12.5,43,850],
  [10.37,743,-850],[10.41,749,0,4],[10.54,726,-850],[10.3,691,-850],[11.03,700,300],[11.11,786,-700],[10.99,777,-850],[11.27,786,850],[11.2,677,850],[11.38,709,850],[11.5,749,0],[11.94,751,400],[11.97,714,0],[11.97,683,-500],[11.75,643,0],[11.78,600,0],[11.77,800,-850,6.5],[11.8,843,0],[12.03,863,-850],[12.15,806,-850],[12.25,923,-500],[12.31,729,850],[12.28,720,0,3],[12.13,643,0,4],[12.04,580,-850],[12.12,577,-850],[12.36,560,0],[12.48,603,-850],[12.53,914,850],[12.5,871,0,4],[12.41,823,0,5],[12.56,900,0],[12.71,900,0,5],[12.68,820,650],[12.75,786,650],[12.86,714,0],[12.99,680,850],[13.08,634,0],[12.98,923,650],[13.05,900,850],[13.12,871,850],[12.87,977,-700],[12.7,994,-300],[13.14,971,-500],[13.23,734,850],[13.28,786,-500],[13.39,786,-850],[13.41,886,0],[13.52,806,0,5],[13.6,800,0,5],[13.52,851,-850,7],[13.57,920,0],[13.73,966,0],[13.94,906,-850],[13.99,734,850],[13.74,743,0,5],[13.76,671,-850],[13.68,651,-300],[13.92,571,0],[13.6,700,0],[10.65,957,0],[10.76,977,-850],[11.05,971,0],[11.26,957,0,3],[10.97,923,-700],[11.05,923,850],[10.84,914,-850],[10.74,900,0],[10.33,923,0,6.5],[10.28,906,650],[9.96,1029,850],
]

const endEdge: Echo[] = [
  [23.94,2937,-300],[23.97,2911,850],[23.97,2783,-600],[23.94,2609,-650],[23.94,2586,-650],[23.92,2269,-850],[23.95,2226,-500],[23.93,1817,-850],[23.95,1549,850],[23.95,1489,-850],[23.95,1394,-300],[23.94,1206,-300],[23.95,1120,-300],[23.97,1000,400],[23.95,891,850],[23.96,897,-300],[23.95,740,850],[23.98,486,-850],[23.97,360,-800],[23.97,183,-850],[23.96,6,400],
]

const echoes = [
  ...startEdge, ...upperEarly, ...middleEarly, ...lowerEarly, ...plumeEchoes,
  ...lateMorning, ...beforeTenUpper, ...afterTenUpper, ...midBand, ...lowerLate, ...endEdge,
].map(([hour, km, doppler, snr]) => ({ hour, km, doppler, snr: snr ?? TYPICAL_SNR }))

// ── Colormaps ─────────────────────────────────────────────────────────────────

const PLASMA = ['#0d0887', '#41049d', '#6a00a8', '#8f0da4', '#b12a90', '#cc4778', '#e16462', '#f2844b', '#fca636', '#fcce25', '#f0f921']

function hexToRgb(hex: string) {
  return [1, 3, 5].map((i) => parseInt(hex.slice(i, i + 2), 16))
}

// snr 0 is the yellow end, snr 20 the blue end (plasma_r)
function plasmaR(t: number) {
  const p = (1 - Math.min(1, Math.max(0, t))) * (PLASMA.length - 1)
  const i = Math.min(PLASMA.length - 2, Math.floor(p))
  const a = hexToRgb(PLASMA[i])
  const b = hexToRgb(PLASMA[i + 1])
  const c = a.map((v, k) => Math.round(v + (b[k] - v) * (p - i)))
  return `rgb(${c[0]},${c[1]},${c[2]})`
}

function ramp(t: number, pts: number[][]) {
  for (let i = 1; i < pts.length; i++) {
    if (t <= pts[i][0]) {
      const [x0, y0] = pts[i - 1]
      const [x1, y1] = pts[i]
      return y0 + ((y1 - y0) * (t - x0)) / (x1 - x0)
    }
  }
  return pts[pts.length - 1][1]
}

// +900 m/s is navy, -900 m/s dark red (jet_r)
function jetR(t: number) {
  const v = 1 - Math.min(1, Math.max(0, t))
  const r = ramp(v, [[0, 0], [0.35, 0], [0.66, 1], [0.89, 1], [1, 0.5]])
  const g = ramp(v, [[0, 0], [0.125, 0], [0.375, 1], [0.64, 1], [0.91, 0], [1, 0]])
  const b = ramp(v, [[0, 0.5], [0.11, 1], [0.34, 1], [0.65, 0], [1, 0]])
  return `rgb(${Math.round(r * 255)},${Math.round(g * 255)},${Math.round(b * 255)})`
}

const snrColor = (snr: number) => plasmaR(snr / 20)
const dopplerColor = (d: number) => jetR((d + 900) / 1800)

const gradientSteps = Array.from({ length: 41 }, (_, i) => i / 40)

// ── Axis ticks ────────────────────────────────────────────────────────────────

const FONT = '"DejaVu Sans"'
const FONT_SIZE = 30.5
const MAJOR = 7
const MINOR = 4

function HourTick({ x, y, payload }: any) {
  const major = hourLabels.includes(payload.value)
  return (
    <g>
      <line x1={x} x2={x} y1={y} y2={y + (major ? MAJOR : MINOR)} stroke="#000" />
      {major && (
        <text x={x} y={y + 33} textAnchor="middle" fontFamily={FONT} fontSize={FONT_SIZE} fill="#000">
          {payload.value}
        </text>
      )}
    </g>
  )
}

function RangeTick({ x, y, payload }: any) {
  const major = rangeLabels.includes(payload.value)
  return (
    <g>
      <line x1={x - (major ? MAJOR : MINOR)} x2={x} y1={y} y2={y} stroke="#000" />
      {major && (
        <text x={x - 10} y={y + 11} textAnchor="end" fontFamily={FONT} fontSize={FONT_SIZE} fill="#000">
          {payload.value}
        </text>
      )}
    </g>
  )
}

// ── Panels ────────────────────────────────────────────────────────────────────

function Panel({ colorOf, top, xHeight, height, xLabel, title }: {
  colorOf: (e: any) => string; top: number; xHeight: number; height: number; xLabel?: string; title?: string
}) {
  return (
    <div style={{ position: 'absolute', left: 0, top }}>
      <ScatterChart
        width={1500}
        height={height}
        margin={{ top: height - xHeight - 350, right: 10, bottom: 0, left: 30 }}
      >
        <CartesianGrid
          stroke="#b0b0b0"
          strokeWidth={1}
          horizontalValues={rangeLabels}
          verticalValues={hourLabels}
        />
        <XAxis
          type="number"
          dataKey="hour"
          domain={[0, 24]}
          ticks={hourTicks}
          interval={0}
          allowDataOverflow
          height={xHeight}
          tickLine={false}
          tickSize={0}
          tickMargin={0}
          axisLine={false}
          tick={<HourTick />}
          label={xLabel ? { value: xLabel, position: 'center', fontFamily: FONT, fontSize: FONT_SIZE, fill: '#000' } : undefined}
        />
        <YAxis
          type="number"
          dataKey="km"
          domain={[0, 3000]}
          ticks={rangeTicks}
          interval={0}
          allowDataOverflow
          width={220}
          tickLine={false}
          tickSize={0}
          tickMargin={0}
          axisLine={false}
          tick={<RangeTick />}
          label={{ value: 'RF Distance (km)', angle: -90, position: 'center', fontFamily: FONT, fontSize: FONT_SIZE, fill: '#000' }}
        />
        <Scatter
          data={echoes}
          isAnimationActive={false}
          shape={(p: any) => (
            <circle cx={p.cx} cy={p.cy} r={p.payload.snr >= 2 ? 2.6 : 2} fill={colorOf(p.payload)} />
          )}
        />
        <ReferenceArea x1={0} x2={24} y1={0} y2={3000} fill="none" stroke="#000" strokeWidth={1.2} ifOverflow="visible" />
        {title && (
          <text x={870} y={112} textAnchor="middle" fontFamily={FONT} fontSize={36.6} fill="#000">{title}</text>
        )}
      </ScatterChart>
    </div>
  )
}

function ColorBar({ id, top, domain, ticks, label, boxWidth, colorAt, format }: {
  id: string; top: number; domain: [number, number]; ticks: number[]; label: string; boxWidth: number
  colorAt: (t: number) => string; format?: (v: number) => string
}) {
  const barEnds = [{ x: 0, y: domain[0] }, { x: 1, y: domain[1] }]
  return (
    <div style={{ position: 'absolute', left: 1500, top }}>
      <ScatterChart
        width={68 + 18 + boxWidth}
        height={500}
        margin={{ top: top === 0 ? 120 : 40, right: 0, bottom: top === 0 ? 30 : 110, left: 68 }}
      >
        <defs>
          <linearGradient id={id} x1="0" y1="1" x2="0" y2="0">
            {gradientSteps.map((t) => (
              <stop key={t} offset={t} stopColor={colorAt(t)} />
            ))}
          </linearGradient>
        </defs>
        <XAxis type="number" dataKey="x" domain={[0, 1]} hide height={0} />
        <YAxis
          type="number"
          dataKey="y"
          orientation="right"
          domain={domain}
          ticks={ticks}
          interval={0}
          width={boxWidth}
          tickSize={7}
          tickMargin={4}
          tickLine={{ stroke: '#000' }}
          axisLine={false}
          tickFormatter={format}
          tick={{ fontFamily: FONT, fontSize: FONT_SIZE, fill: '#000' }}
          label={{ value: label, angle: -90, position: 'center', fontFamily: FONT, fontSize: FONT_SIZE, fill: '#000' }}
        />
        <Scatter data={barEnds} isAnimationActive={false} shape={() => <g />} />
        <ReferenceArea
          x1={0} x2={1} y1={domain[0]} y2={domain[1]}
          fill={`url(#${id})`} fillOpacity={1} stroke="#000" strokeWidth={1.2} ifOverflow="visible"
        />
      </ScatterChart>
    </div>
  )
}

export default function App() {
  return (
    <div style={{ position: 'absolute', left: 0, top: 0, width: 2000, height: 1000, background: '#fff', overflow: 'hidden' }}>
      <Panel
        top={0} height={530} xHeight={60}
        colorOf={(e) => snrColor(e.snr)}
        title="2023-02-17 ICEBEAR Summary Plot"
      />
      <Panel
        top={500} height={502} xHeight={112}
        colorOf={(e) => dopplerColor(e.doppler)}
        xLabel="Time (hours)"
      />
      <ColorBar id="snrBar" top={0} domain={[0, 20]} ticks={snrTicks} label="SNR (dB)" boxWidth={134} colorAt={(t) => plasmaR(t)} />
      <ColorBar
        id="dopplerBar" top={500} domain={[-900, 900]} ticks={dopplerTicks} label="Doppler (m/s)" boxWidth={220}
        colorAt={(t) => jetR(t)}
        format={(v) => (v < 0 ? `\u2212${Math.abs(v)}` : `${v}`)}
      />
    </div>
  )
}
